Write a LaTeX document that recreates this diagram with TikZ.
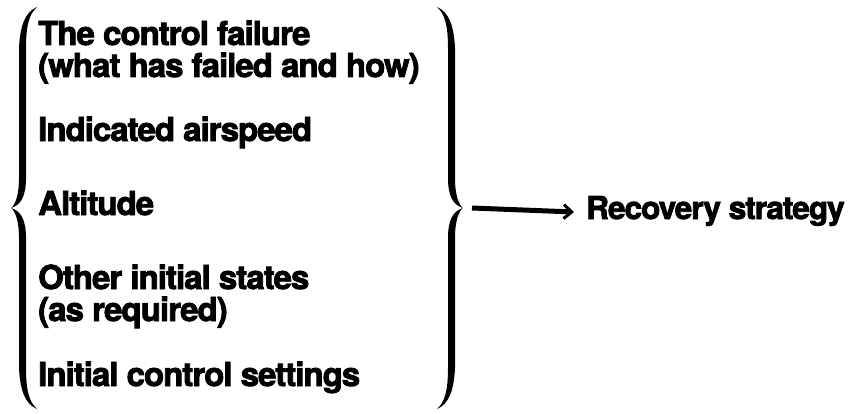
\documentclass[tikz,border=0pt]{standalone}
\usepackage{fontspec}
\setmainfont{TeX Gyre Heros}[BoldFeatures={FakeBold=2.5,LetterSpace=-3}]
\usetikzlibrary{arrows.meta}
\tikzset{
  item/.style={anchor=base west, align=left, inner sep=0pt,
    font=\fontsize{33}{32}\selectfont\bfseries},
  bigbrace/.pic={
    \fill[black] (26,201) .. controls (14,196) and (9,182) .. (8,160)
      -- (8,30) .. controls (8,12) and (4,3) .. (0,0)
      .. controls (4,-3) and (8,-12) .. (8,-30)
      -- (8,-160) .. controls (9,-182) and (14,-196) .. (26,-201)
      .. controls (18,-194) and (15,-182) .. (15,-160)
      -- (15,-30) .. controls (15,-12) and (10,-3) .. (0,0)
      .. controls (10,3) and (15,12) .. (15,30)
      -- (15,160) .. controls (15,182) and (18,194) .. (26,201) -- cycle;
  }
}
\begin{document}
\begin{tikzpicture}[x=1pt,y=1pt]
\useasboundingbox (0,0) rectangle (856,413);
\pic at (11,205) {bigbrace};
\pic[xscale=-1] at (463,205) {bigbrace};
\coordinate (rtip) at (463,205);
\node[item] (n1) at (38,336) {The control failure\\(what has failed and how)};
\node[item] (n2) at (38,272) {Indicated airspeed};
\node[item] (n3) at (38,198) {Altitude};
\node[item] (n4) at (38,92) {Other initial states\\(as required)};
\node[item] (n5) at (38,27) {Initial control settings};
\node[item, font=\fontsize{31.5}{32}\selectfont\bfseries] (rec) at (586,194) {Recovery strategy};
\draw[line width=5pt, -{Straight Barb[length=8pt,width=14pt,line width=3pt]}]
  ([xshift=9pt]rtip) -- ([xshift=-12pt,yshift=7pt]rec.base west);
\end{tikzpicture}
\end{document}
